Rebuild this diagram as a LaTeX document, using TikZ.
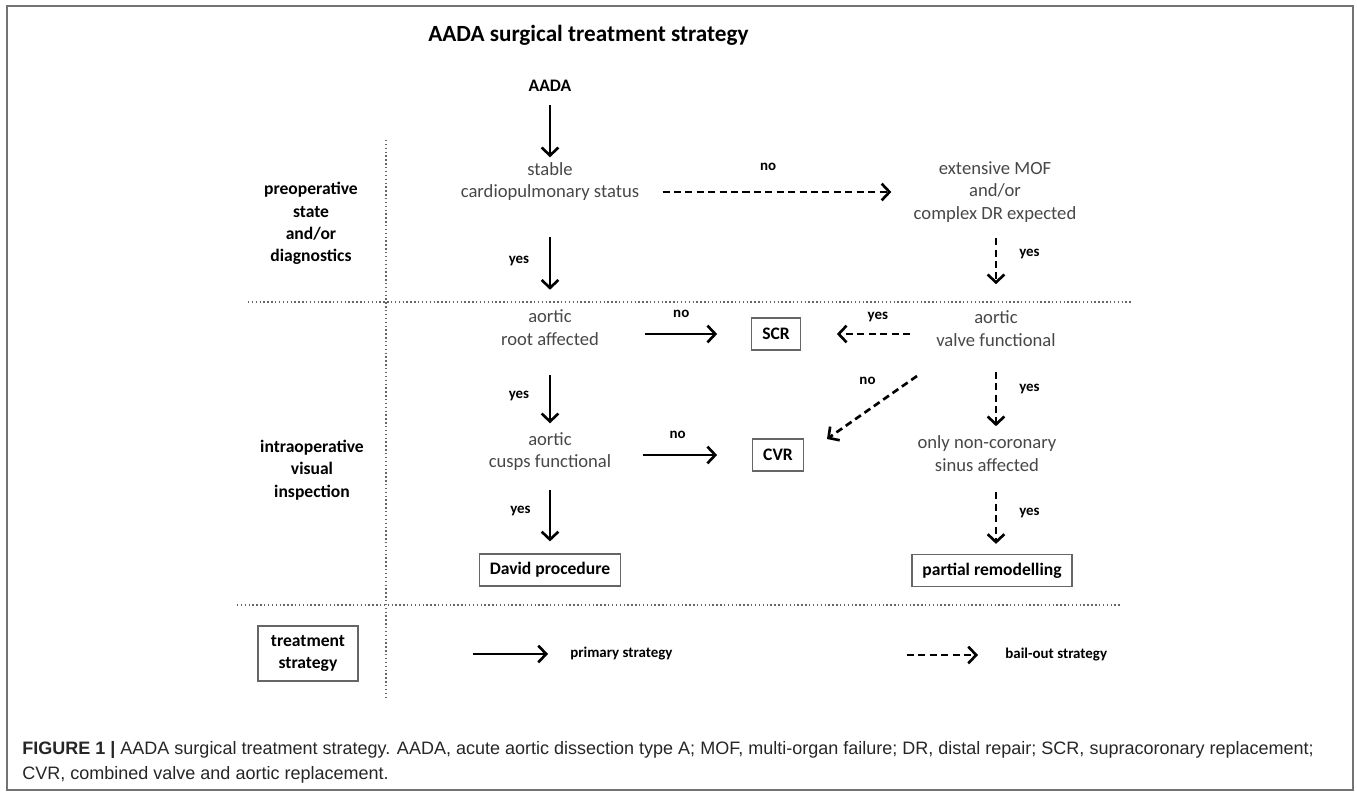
\documentclass[tikz,border=0pt]{standalone}
\usepackage{fontspec}
\setmainfont{Carlito}
\newfontfamily\capfont{Liberation Sans}
\usetikzlibrary{arrows.meta}
\tikzset{
  txt/.style={font=\fontsize{10.6}{13}\selectfont, text=black!72, align=center, inner sep=0pt},
  bold/.style={font=\bfseries\fontsize{10}{12.7}\selectfont, align=center, inner sep=0pt},
  lbl/.style={font=\bfseries\fontsize{8.5}{10}\selectfont, inner sep=0pt},
  box/.style={bold, draw=black!60, line width=0.7pt, inner xsep=0.21cm, minimum height=0.64cm},
  prim/.style={line width=1.5pt, -{Straight Barb[length=4.5pt,width=9.5pt]}},
  bail/.style={prim, dash pattern=on 4pt off 2.5pt},
  sep/.style={black!60, line width=0.6pt, dash pattern=on 0.8pt off 1.4pt}
}
\begin{document}
\begin{tikzpicture}[x=0.02cm, y=-0.02cm]
			\useasboundingbox (0,0) rectangle (1357,794);
			\draw[black!55, line width=0.8pt] (7,6) rectangle (1353,790);
			\node[anchor=west, font=\bfseries\fontsize{13.2}{15}\selectfont, inner sep=0pt] (title) at (428,35) {AADA surgical treatment strategy};

			% separators
			\foreach \y/\a/\b in {302/248/1133, 605/237/1122}{
				\draw[sep] (\a,\y) -- (\b,\y);
			}
			\draw[sep] (386,140) -- (386,700);

			\node[bold] (pre) at (311,223.5) {preoperative\\state\\and/or\\diagnostics};
			\node[bold] (intra) at (312,470) {intraoperative\\visual\\inspection};
			\node[box, minimum width=2cm, minimum height=1.1cm] (treat) at (308,653.5) {treatment\\strategy};

			\node[bold] (aada) at (550,86) {AADA};
			\node[txt] (stable) at (550,181.5) {stable\\cardiopulmonary status};
			\node[txt] (mof) at (995,192) {extensive MOF\\and/or\\complex DR expected};
			\node[txt] (root) at (550,327.5) {aortic\\root affected};
			\node[txt] (valve) at (996,328.5) {aortic\\valve functional};
			\node[txt] (cusps) at (550,451.5) {aortic\\cusps functional};
			\node[txt] (sinus) at (987,454) {only non-coronary\\sinus affected};
			\node[box] (scr) at (776,334) {SCR};
			\node[box] (cvr) at (778,455) {CVR};
			\node[box] (david) at (550,570) {David procedure};
			\node[box] (partial) at (992,570.5) {partial remodelling};

			% primary strategy
			\draw[prim, shorten <=0.26cm, shorten >=0.09cm] (aada) -- (stable);
			\draw[prim, shorten <=0.72cm, shorten >=0.39cm] (stable) -- (root) node[lbl, pos=0.55, left=0.39cm] (y1) {yes};
			\draw[prim, shorten <=0.58cm, shorten >=0.17cm] (root) -- (cusps) node[lbl, pos=0.58, left=0.39cm] (y2) {yes};
			\draw[prim, shorten <=0.38cm, shorten >=0.24cm] (cusps) -- (david) node[lbl, pos=0.49, left=0.36cm] (y3) {yes};
			\draw[prim, shorten <=0.92cm, shorten >=0.68cm] (root.east |- scr.west) -- (scr.west) node[lbl, pos=0.54, above=0.31cm] (n1) {no};
			\draw[prim, shorten <=0.62cm, shorten >=0.7cm] (cusps.east |- cvr.west) -- (cvr.west) node[lbl, pos=0.47, above=0.31cm] (n2) {no};

			% bail-out strategy
			\draw[bail, shorten <=0.46cm, shorten >=0.44cm] (stable.east |- mof.west) -- (mof.west) node[lbl, pos=0.47, above=0.4cm] (n0) {no};
			\draw[bail, shorten <=0.3cm, shorten >=0.52cm] (mof.south -| valve.north) -- (valve.north) node[lbl, pos=0.36, right=0.44cm] (y4) {yes};
			\draw[bail, shorten <=0.52cm, shorten >=0.72cm] (valve.west |- scr.east) -- (scr.east) node[lbl, pos=0.43, above=0.22cm] (y5) {yes};
			\draw[bail] ([xshift=-1.58cm,yshift=-0.95cm]valve.center) -- ([xshift=0.98cm,yshift=0.32cm]cvr.center) node[lbl, pos=0.55, above=0.5cm] (n3) {no};
			\draw[bail, shorten <=0.5cm, shorten >=0.19cm] (valve.south) -- (valve.south |- sinus.north) node[lbl, pos=0.47, right=0.44cm] (y6) {yes};
			\draw[bail, shorten <=0.4cm, shorten >=0.2cm] (valve.south |- sinus.south) -- (valve.south |- partial.north) node[lbl, pos=0.5, right=0.44cm] (y7) {yes};

			% legend
			\coordinate (pstart) at (473,654);
			\node[lbl, anchor=west] (primary) at (570,654) {primary strategy};
			\draw[prim, shorten >=0.44cm] (pstart) -- (primary.west);
			\coordinate (bstart) at (907,655);
			\node[lbl, anchor=west] (bailout) at (1005,655) {bail-out strategy};
			\draw[bail, shorten >=0.54cm] (bstart) -- (bailout.west);

			\node[anchor=west, font=\capfont\fontsize{10.25}{14.2}\selectfont, text=black!85, align=left, inner sep=0pt] (caption) at (22,762.5) {\textbf{FIGURE 1 |} AADA surgical treatment strategy. AADA, acute aortic dissection type A; MOF, multi-organ failure; DR, distal repair; SCR, supracoronary replacement;\\CVR, combined valve and aortic replacement.};
\end{tikzpicture}
\end{document}
